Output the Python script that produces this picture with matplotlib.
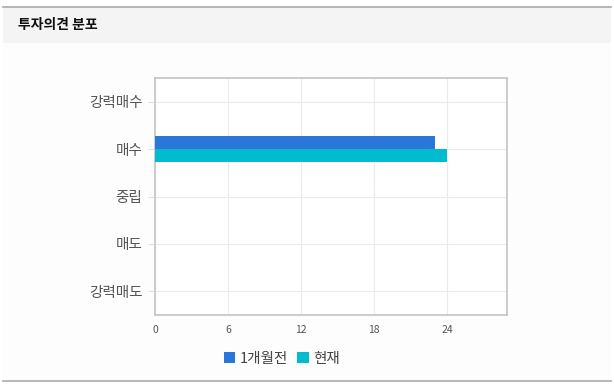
import matplotlib.pyplot as plt
import numpy as np
from matplotlib.patches import Rectangle

plt.rcParams['font.family'] = ['Noto Sans CJK KR', 'DejaVu Sans']

categories = ['강력매수', '매수', '중립', '매도', '강력매도']
month_ago = [0, 23, 0, 0, 0]
current = [0, 24, 0, 0, 0]
series_names = ['1개월전', '현재']
xticks = [0, 6, 12, 18, 24]

W, H = 614, 390
fig = plt.figure(figsize=(W / 100, H / 100), dpi=100)
fig.patch.set_facecolor('white')

# page frame drawn on a background axes in pixel coords (y down)
bg = fig.add_axes([0, 0, 1, 1], zorder=-1)
bg.set_xlim(0, W)
bg.set_ylim(H, 0)
bg.axis('off')
bg.add_patch(Rectangle((3, 7), 608, 36, facecolor='#f4f4f4', edgecolor='none'))
bg.add_patch(Rectangle((3, 43), 608, 337, facecolor='#fdfdfd', edgecolor='none'))
bg.plot([3, 611], [6.5, 6.5], color='#aaaaaa', lw=1.2)
bg.plot([3, 611], [381, 381], color='#aaaaaa', lw=1.2)
bg.text(18, 25, '투자의견 분포', fontsize=10, fontweight='bold', color='#111111',
        va='center', ha='left')

ax = fig.add_axes([155 / W, 1 - 315 / H, 352 / W, 237 / H], zorder=1)
ax.set_facecolor('white')

y = np.arange(len(categories))
h = 0.27
ax.barh(y - h / 2, month_ago, height=h, color='#2a77d9', label=series_names[0], zorder=3)
ax.barh(y + h / 2, current, height=h, color='#00bccc', label=series_names[1], zorder=3)

ax.set_xlim(0, 28.9)
ax.set_ylim(4.5, -0.5)
ax.set_yticks(y)
ax.set_yticklabels(categories, fontsize=10.5, color='#555555')
ax.set_xticks(xticks)
ax.set_xticklabels([str(t) for t in xticks], fontsize=7.5, color='#555555')
ax.grid(True, color='#ebebeb', lw=0.8, zorder=0)
ax.tick_params(axis='y', length=5, color='#dddddd', pad=4)
ax.tick_params(axis='x', length=0, pad=7)
for s in ax.spines.values():
    s.set_color('#c4c4c4')
    s.set_linewidth(1.2)

ax.legend(loc='upper center', bbox_to_anchor=(0.36, -0.1), ncol=2, frameon=False,
          fontsize=10.5, handlelength=0.8, handleheight=0.8, handletextpad=0.3,
          columnspacing=0.6, labelcolor='#444444')

fig.savefig('out.png', dpi=100)
